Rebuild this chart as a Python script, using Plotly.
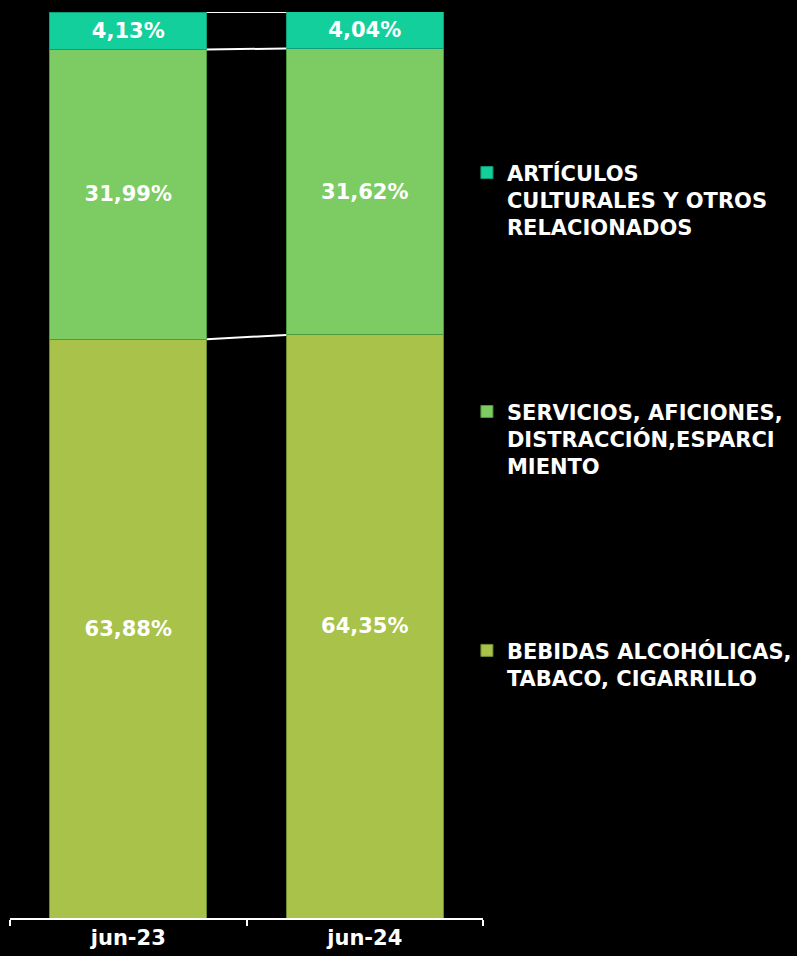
import plotly.graph_objects as go

categories = ["jun-23", "jun-24"]
bebidas = [63.88, 64.35]
servicios = [31.99, 31.62]
articulos = [4.13, 4.04]
series_names = [
    "BEBIDAS ALCOHÓLICAS,<br>TABACO, CIGARRILLO",
    "SERVICIOS, AFICIONES,<br>DISTRACCIÓN,ESPARCI<br>MIENTO",
    "ARTÍCULOS<br>CULTURALES Y OTROS<br>RELACIONADOS",
]
colors = ["#A8C24A", "#7CCB63", "#12CF9C"]
line_colors = ["#6E8A2E", "#4E9A3E", "#0E9E78"]

FONT = "DejaVu Sans"
BAR_W = 0.664

def fmt(v):
    return f"{v:.2f}".replace(".", ",") + "%"

fig = go.Figure()
series = [bebidas, servicios, articulos]
for i, (vals, name) in enumerate(zip(series, series_names)):
    fig.add_trace(go.Bar(
        x=categories, y=vals, name=name,
        marker=dict(color=colors[i], line=dict(color=line_colors[i], width=1)),
        width=BAR_W,
        text=[fmt(v) for v in vals],
        textposition="inside", insidetextanchor="middle", textangle=0,
        constraintext="none",
        textfont=dict(family=FONT, size=21, color="white", weight="bold"),
        hoverinfo="skip",
        legendgroup=f"g{i}", legendrank=3 - i,
    ))

# series lines between bars (on an overlaying numeric axis)
cum = [0.0, 0.0]
for vals in series:
    cum = [cum[0] + vals[0], cum[1] + vals[1]]
    fig.add_trace(go.Scatter(
        x=[0 + BAR_W / 2, 1 - BAR_W / 2], y=list(cum),
        mode="lines", line=dict(color="white", width=2),
        xaxis="x2", showlegend=False, hoverinfo="skip",
    ))

fig.update_layout(
    width=797, height=956,
    paper_bgcolor="black", plot_bgcolor="black",
    barmode="stack",
    margin=dict(l=10, r=314, t=12, b=38, autoexpand=False),
    font=dict(family=FONT, color="white"),
    showlegend=True,
    legend=dict(
        x=0.966, xanchor="left", y=0.845, yanchor="top",
        traceorder="grouped", tracegroupgap=154, valign="top",
        font=dict(family=FONT, size=21, color="white", weight="bold"),
        itemwidth=30, bgcolor="rgba(0,0,0,0)",
    ),
    xaxis=dict(
        type="category", range=[-0.5, 1.5],
        showline=True, linecolor="white", linewidth=1.5,
        ticks="outside", tickson="boundaries", tickcolor="white", ticklen=6, tickwidth=1.5,
        tickfont=dict(family=FONT, size=21, color="white", weight="bold"),
        showgrid=False, zeroline=False,
    ),
    xaxis2=dict(overlaying="x", range=[-0.5, 1.5], visible=False),
    yaxis=dict(range=[0, 100], visible=False, showgrid=False, zeroline=False),
)

fig.write_html(
    "out.html",
    config={"displayModeBar": False},
    post_script="document.body.style.margin='0';document.body.style.background='black';",
)
